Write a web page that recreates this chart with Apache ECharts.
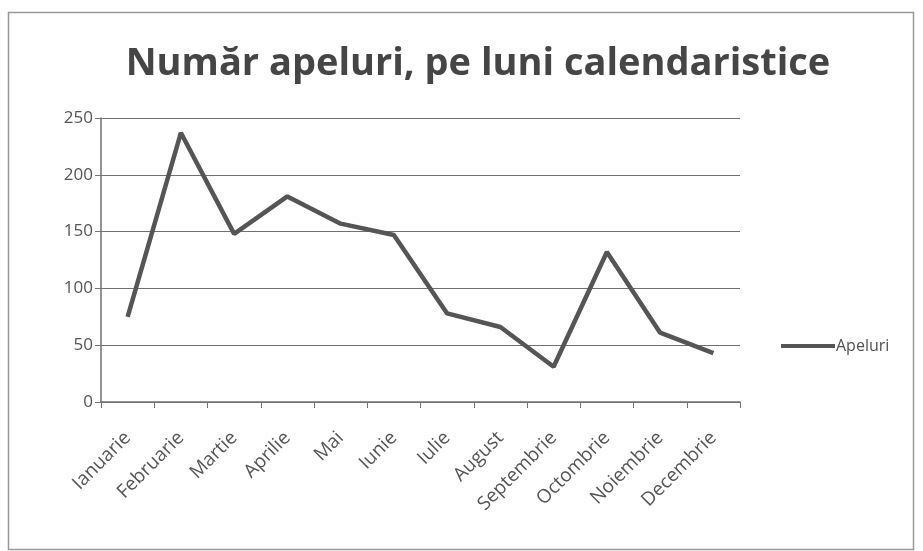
<!DOCTYPE html>
<html>
<head>
<meta charset="utf-8">
<script src="https://cdn.jsdelivr.net/npm/echarts@6/dist/echarts.min.js"></script>
<style>
  html, body { margin: 0; padding: 0; background: #fff; }
  #chart { width: 923px; height: 551px; }
</style>
</head>
<body>
<div id="chart"></div>
<script>
const months = ["Ianuarie", "Februarie", "Martie", "Aprilie", "Mai", "Iunie",
  "Iulie", "August", "Septembrie", "Octombrie", "Noiembrie", "Decembrie"];
const apeluri = [75, 237, 148, 181, 157, 147, 78, 66, 31, 132, 61, 43];
const yTicks = [0, 50, 100, 150, 200, 250];

const chart = echarts.init(document.getElementById("chart"));
const font = "'Open Sans', 'Noto Sans', sans-serif";
chart.setOption({
  backgroundColor: "#fff",
  animation: false,
  title: {
    text: "Număr apeluri, pe luni calendaristice",
    left: 473,
    top: 40,
    textAlign: "center",
    textStyle: { fontFamily: font, fontSize: 38, fontWeight: "bold", color: "#454545" }
  },
  legend: {
    data: ["Apeluri"],
    left: 776,
    top: 333,
    itemWidth: 54,
    itemHeight: 14,
    itemGap: 4,
    icon: "path://M0,5 L54,5 L54,9 L0,9 Z",
    textStyle: { fontFamily: font, fontSize: 16, color: "#505050", padding: [0, 0, 0, -4] }
  },
  grid: { left: 101, right: 183, top: 118, bottom: 149 },
  xAxis: {
    type: "category",
    data: months,
    boundaryGap: true,
    axisLine: { lineStyle: { color: "#707070", width: 1.5 } },
    axisTick: { show: true, length: 6, inside: false, lineStyle: { color: "#707070" } },
    axisLabel: { rotate: 45, margin: 33, fontFamily: font, fontSize: 19, color: "#555", interval: 0 }
  },
  yAxis: {
    type: "value",
    min: yTicks[0],
    max: yTicks[yTicks.length - 1],
    interval: 50,
    axisLine: { show: true, lineStyle: { color: "#707070", width: 1.5 } },
    axisTick: { show: true, length: 6, lineStyle: { color: "#707070" } },
    axisLabel: { margin: 8, fontFamily: font, fontSize: 17, color: "#555" },
    splitLine: { lineStyle: { color: "#707070", width: 1.2 } }
  },
  series: [{
    name: "Apeluri",
    type: "line",
    data: apeluri,
    symbol: "none",
    lineStyle: { color: "#555", width: 4.5 },
    itemStyle: { color: "#555" }
  }],
  graphic: [{
    type: "rect",
    shape: { x: 8.5, y: 12.5, width: 905, height: 537 },
    style: { fill: "none", stroke: "#999", lineWidth: 1.5 },
    silent: true
  }]
});
</script>
</body>
</html>
